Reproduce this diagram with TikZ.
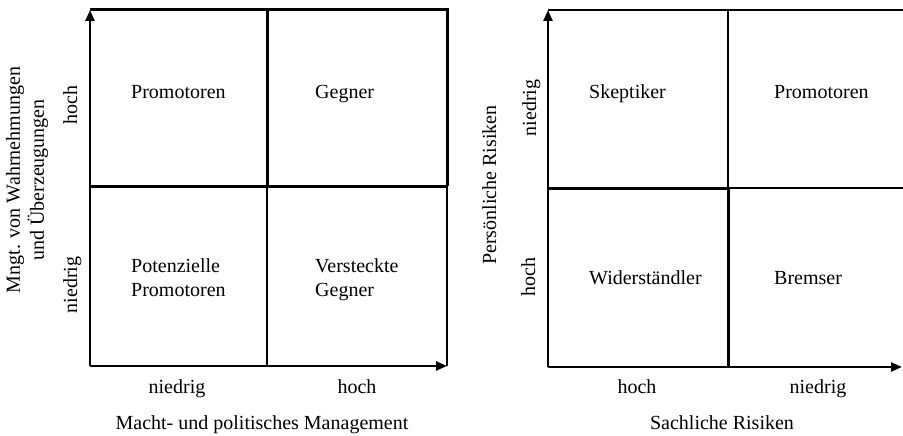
\documentclass[tikz,border=0pt]{standalone}
\usepackage{fontspec}
\setmainfont{Liberation Serif}
\usetikzlibrary{positioning,arrows.meta}

\begin{document}
\begin{tikzpicture}[x=1pt,y=-1pt,
    txt/.style={font=\fontsize{20}{24}\selectfont,inner sep=0pt,anchor=base},
    quad/.style={txt,align=left,anchor=base west},
    heavy/.style={line width=3pt},
    medium/.style={line width=2pt},
    light/.style={line width=1.3pt},
    axis/.style={line width=2.4pt,-{Triangle[length=11pt,width=9pt]}}]
    \useasboundingbox (0,0) rectangle (903,436);
    % left matrix corners
    \coordinate (l_o)  at (90,366);
    \coordinate (l_t)  at (90,10);
    \coordinate (l_r)  at (447,366);
    \coordinate (l_tm) at (267,10);
    \coordinate (l_tr) at (447,10);
    \coordinate (l_ml) at (90,186);
    \coordinate (l_mm) at (267,186);
    \coordinate (l_mr) at (447,186);
    \coordinate (l_bm) at (267,366);
    % right matrix corners
    \coordinate (r_o)  at (548,367);
    \coordinate (r_t)  at (548,10);
    \coordinate (r_r)  at (902,367);
    \coordinate (r_tm) at (728,10);
    \coordinate (r_tr) at (903,10);
    \coordinate (r_ml) at (548,188);
    \coordinate (r_mm) at (728,188);
    \coordinate (r_mr) at (903,188);
    \coordinate (r_bm) at (728,367);

    % left matrix lines
    \draw[heavy] (l_t) -- (l_tr) -- (l_mr);
    \draw[heavy] (l_ml) -- (l_mr);
    \draw[heavy] (l_tm) -- (l_mm);
    \draw[light] (l_mm) -- (l_bm);
    \draw[light] (l_mr) -- (l_r);
    \draw[axis] (l_o) -- (l_t);
    \draw[axis] (l_o) -- (l_r);

    % right matrix lines
    \draw[medium] (r_t) -- (r_tr);
    \draw[heavy] (r_ml) -- (r_mm);
    \draw[medium] (r_mm) -- (r_mr);
    \draw[medium] (r_tm) -- (r_mm);
    \draw[heavy] (r_mm) -- (r_bm);
    \draw[axis] (r_o) -- (r_t);
    \draw[axis] (r_o) -- (r_r);

    % left quadrants
    \node[quad] (promo)   at (131,99)  {Promotoren};
    \node[quad] (gegner)  at (315,99)  {Gegner};
    \node[quad] (potprom) at (131,296) {Potenzielle\\Promotoren};
    \node[quad] (versgeg) at (315,296) {Versteckte\\Gegner};
    % left axis labels
    \node[txt] (l_xlo) at (177,393) {niedrig};
    \node[txt] (l_xhi) at (357,393) {hoch};
    \node[txt] (l_xtitle) at (262,429) {Macht- und politisches Management};
    \node[txt,rotate=90] (l_yhi) at (77,105) {hoch};
    \node[txt,rotate=90] (l_ylo) at (77,285) {niedrig};
    \node[txt,rotate=90,align=center,anchor=center] (l_ytitle) at (27,180)
        {Mngt. von Wahrnehmungen\\und Überzeugungen};

    % right quadrants
    \node[quad] (skept)   at (589,99)  {Skeptiker};
    \node[quad] (promo2)  at (774,99)  {Promotoren};
    \node[quad] (widerst) at (589,284) {Widerständler};
    \node[quad] (bremser) at (774,284) {Bremser};
    % right axis labels
    \node[txt] (r_xhi) at (637,393) {hoch};
    \node[txt] (r_xlo) at (818,393) {niedrig};
    \node[txt] (r_xtitle) at (722,429) {Sachliche Risiken};
    \node[txt,rotate=90] (r_ylo) at (536,108) {niedrig};
    \node[txt,rotate=90] (r_yhi) at (535,277) {hoch};
    \node[txt,rotate=90] (r_ytitle) at (496,185) {Persönliche Risiken};
\end{tikzpicture}
\end{document}
